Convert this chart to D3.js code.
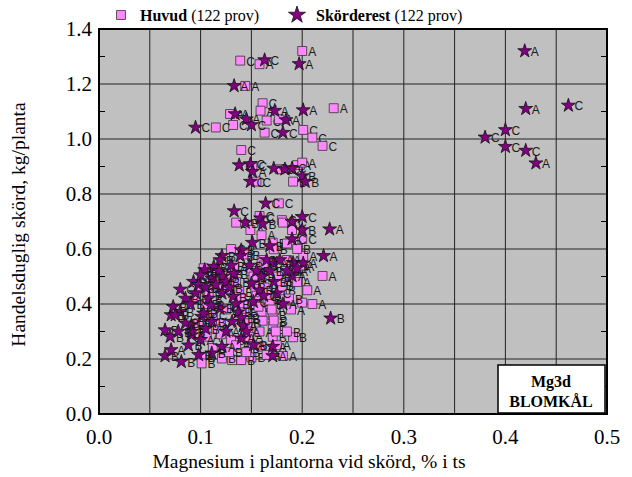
<!DOCTYPE html>
<html>
<head>
<meta charset="utf-8">
<script src="https://cdn.jsdelivr.net/npm/d3@7"></script>
<style>
  body { margin: 0; background: #fff; }
  svg { display: block; }
</style>
</head>
<body>
<div id="chart"></div>
<script>
// Mg i plantorna vs handelsduglig skörd — Mg3d blomkål

const xTicks = [0, 0.1, 0.2, 0.3, 0.4, 0.5];
const xGrid = [0.05, 0.1, 0.15, 0.2, 0.25, 0.3, 0.35, 0.4, 0.45];
const yTicks = [0, 0.2, 0.4, 0.6, 0.8, 1.0, 1.2, 1.4];
const yMinor = [0.1, 0.3, 0.5, 0.7, 0.9, 1.1, 1.3];

// [Mg %, skörd kg/planta, led]
const huvud = [
  [0.139,1.285,"C"],[0.158,1.272,"A"],[0.200,1.320,"A"],[0.144,1.193,"A"],[0.161,1.130,"C"],
  [0.159,1.103,"A"],[0.231,1.112,"A"],[0.129,1.091,"A"],[0.132,1.051,"C"],[0.165,1.067,"C"],
  [0.177,1.072,"A"],[0.115,1.042,"C"],[0.163,1.023,"C"],[0.201,1.033,"C"],[0.210,1.005,"C"],
  [0.220,0.975,"C"],[0.140,0.960,"C"],[0.151,0.902,"C"],[0.155,0.845,"C"],[0.178,0.890,"C"],
  [0.195,0.905,"A"],[0.200,0.914,"A"],[0.191,0.845,"B"],[0.177,0.766,"C"],[0.135,0.696,"B"],
  [0.158,0.720,"C"],[0.149,0.669,"A"],[0.180,0.705,"C"],[0.181,0.696,"C"],[0.190,0.669,"B"],
  [0.200,0.636,"C"],[0.171,0.623,"B"],[0.172,0.599,"B"],[0.201,0.575,"A"],[0.220,0.502,"A"],
  [0.191,0.279,"B"],[0.200,0.405,"A"],[0.210,0.400,"A"],[0.171,0.281,"B"],[0.181,0.211,"A"],
  [0.160,0.245,"A"],[0.150,0.206,"B"],[0.131,0.196,"B"],[0.140,0.196,"B"],[0.101,0.208,"B"],
  [0.101,0.184,"B"],[0.104,0.526,"C"],[0.160,0.372,"B"],[0.161,0.339,"B"],[0.171,0.320,"B"],
  [0.171,0.360,"B"],[0.181,0.481,"B"],[0.163,0.530,"A"],[0.106,0.281,"A"],[0.150,0.251,"A"],
  [0.121,0.202,"B"],[0.110,0.498,"C"],[0.118,0.470,"B"],[0.125,0.455,"C"],[0.128,0.510,"B"],
  [0.133,0.540,"A"],[0.135,0.480,"B"],[0.138,0.445,"B"],[0.140,0.420,"A"],[0.142,0.395,"B"],
  [0.143,0.370,"B"],[0.145,0.350,"B"],[0.146,0.330,"B"],[0.147,0.300,"B"],[0.148,0.280,"A"],
  [0.150,0.520,"B"],[0.152,0.500,"B"],[0.153,0.470,"A"],[0.154,0.455,"B"],[0.155,0.430,"B"],
  [0.156,0.410,"B"],[0.157,0.390,"B"],[0.158,0.300,"A"],[0.160,0.560,"C"],[0.162,0.540,"B"],
  [0.163,0.460,"B"],[0.165,0.440,"C"],[0.166,0.420,"B"],[0.168,0.400,"B"],[0.170,0.380,"A"],
  [0.172,0.340,"B"],[0.174,0.300,"A"],[0.176,0.500,"B"],[0.178,0.470,"B"],[0.180,0.450,"B"],
  [0.183,0.520,"A"],[0.185,0.560,"A"],[0.187,0.420,"B"],[0.189,0.380,"A"],[0.192,0.520,"A"],
  [0.195,0.480,"A"],[0.198,0.540,"A"],[0.205,0.450,"A"],[0.125,0.380,"B"],[0.120,0.330,"A"],
  [0.115,0.310,"B"],[0.112,0.360,"C"],[0.108,0.440,"C"],[0.105,0.400,"B"],[0.100,0.460,"C"],
  [0.098,0.330,"B"],[0.095,0.420,"C"],[0.120,0.290,"A"],[0.130,0.270,"B"],[0.135,0.250,"A"],
  [0.128,0.225,"B"],[0.112,0.240,"B"],[0.145,0.225,"B"],[0.165,0.215,"A"],[0.175,0.250,"A"],
  [0.185,0.300,"B"],[0.130,0.600,"C"],[0.145,0.580,"B"],[0.185,0.620,"C"],[0.195,0.600,"B"],
  [0.160,0.650,"A"],[0.103,0.530,"C"]
];

const skorderest = [
  [0.419,1.320,"A"],[0.420,1.110,"A"],[0.462,1.122,"C"],[0.380,1.006,"C"],[0.400,1.033,"C"],
  [0.400,0.972,"C"],[0.420,0.958,"C"],[0.430,0.912,"A"],[0.163,1.287,"C"],[0.197,1.273,"A"],
  [0.133,1.193,"A"],[0.173,1.103,"A"],[0.201,1.105,"A"],[0.134,1.091,"A"],[0.145,1.072,"A"],
  [0.150,1.051,"C"],[0.184,1.069,"A"],[0.095,1.042,"C"],[0.181,1.023,"C"],[0.138,0.905,"C"],
  [0.149,0.909,"C"],[0.151,0.881,"A"],[0.149,0.845,"C"],[0.172,0.893,"C"],[0.183,0.890,"C"],
  [0.190,0.893,"C"],[0.200,0.865,"B"],[0.203,0.845,"B"],[0.164,0.766,"C"],[0.133,0.738,"C"],
  [0.144,0.696,"B"],[0.159,0.712,"C"],[0.161,0.691,"B"],[0.190,0.699,"C"],[0.200,0.717,"C"],
  [0.200,0.669,"B"],[0.227,0.672,"A"],[0.190,0.636,"C"],[0.151,0.623,"B"],[0.168,0.611,"B"],
  [0.140,0.596,"B"],[0.121,0.575,"B"],[0.221,0.575,"A"],[0.228,0.348,"B"],[0.175,0.439,"C"],
  [0.181,0.400,"A"],[0.171,0.245,"A"],[0.171,0.211,"A"],[0.152,0.251,"B"],[0.121,0.245,"A"],
  [0.111,0.221,"B"],[0.081,0.190,"B"],[0.065,0.211,"B"],[0.071,0.233,"A"],[0.065,0.305,"B"],
  [0.070,0.281,"B"],[0.071,0.360,"B"],[0.080,0.372,"B"],[0.091,0.324,"B"],[0.091,0.287,"A"],
  [0.101,0.354,"B"],[0.111,0.336,"B"],[0.080,0.453,"C"],[0.093,0.481,"B"],[0.104,0.524,"B"],
  [0.119,0.560,"B"],[0.111,0.493,"B"],[0.121,0.439,"A"],[0.132,0.427,"B"],[0.119,0.384,"B"],
  [0.139,0.575,"B"],[0.150,0.475,"B"],[0.152,0.408,"C"],[0.172,0.548,"A"],[0.191,0.550,"A"],
  [0.201,0.548,"A"],[0.190,0.502,"A"],[0.172,0.481,"B"],[0.140,0.275,"A"],[0.073,0.390,"B"],
  [0.113,0.536,"B"],[0.131,0.336,"B"],[0.103,0.366,"B"],[0.091,0.299,"B"],[0.085,0.420,"B"],
  [0.090,0.400,"B"],[0.095,0.440,"C"],[0.098,0.470,"C"],[0.100,0.505,"B"],[0.105,0.460,"B"],
  [0.108,0.420,"B"],[0.110,0.395,"B"],[0.115,0.470,"B"],[0.118,0.520,"A"],[0.122,0.500,"B"],
  [0.125,0.480,"B"],[0.128,0.460,"B"],[0.130,0.540,"B"],[0.133,0.510,"B"],[0.135,0.400,"B"],
  [0.137,0.370,"B"],[0.140,0.350,"B"],[0.142,0.320,"A"],[0.145,0.300,"A"],[0.148,0.540,"B"],
  [0.155,0.520,"B"],[0.158,0.450,"B"],[0.160,0.500,"B"],[0.162,0.430,"C"],[0.165,0.560,"A"],
  [0.168,0.520,"B"],[0.178,0.560,"A"],[0.185,0.520,"A"],[0.195,0.530,"A"],[0.085,0.330,"B"],
  [0.078,0.300,"B"],[0.075,0.360,"B"],[0.088,0.250,"B"],[0.100,0.270,"A"],[0.105,0.310,"B"],
  [0.125,0.300,"A"],[0.098,0.215,"B"]
];

const W = 632, H = 477;
const plot = { left: 99, right: 607, top: 29, bottom: 414 };
const serif = "'Liberation Serif', 'Times New Roman', Times, serif";
const sans = "'Liberation Sans', Arial, sans-serif";
const pink = "#ff88ff";
const purple = "#800080";

const svg = d3.select("#chart").append("svg")
  .attr("width", W).attr("height", H)
  .attr("viewBox", `0 0 ${W} ${H}`);

const x = d3.scaleLinear().domain([0, 0.5]).range([plot.left, plot.right]);
const y = d3.scaleLinear().domain([0, 1.4]).range([plot.bottom, plot.top]);

// bakgrund
svg.append("rect")
  .attr("x", plot.left).attr("y", plot.top)
  .attr("width", plot.right - plot.left).attr("height", plot.bottom - plot.top)
  .attr("fill", "#c0c0c0");

// rutnät
svg.append("g").selectAll("line").data(xGrid).join("line")
  .attr("x1", d => x(d)).attr("x2", d => x(d))
  .attr("y1", plot.top).attr("y2", plot.bottom)
  .attr("stroke", "#222").attr("stroke-width", 1);

svg.append("g").selectAll("line").data(yTicks.slice(1, -1)).join("line")
  .attr("x1", plot.left).attr("x2", plot.right)
  .attr("y1", d => y(d)).attr("y2", d => y(d))
  .attr("stroke", "#222").attr("stroke-width", 1);

// små streck på y-axlarna
const minor = svg.append("g");
yMinor.forEach(v => {
  minor.append("line")
    .attr("x1", plot.left).attr("x2", plot.left + 6)
    .attr("y1", y(v)).attr("y2", y(v))
    .attr("stroke", "#000").attr("stroke-width", 1);
  minor.append("line")
    .attr("x1", plot.right - 6).attr("x2", plot.right)
    .attr("y1", y(v)).attr("y2", y(v))
    .attr("stroke", "#000").attr("stroke-width", 1);
});

// punkter
const square = d3.symbol().type(d3.symbolSquare).size(80);
const star = d3.symbol().type(d3.symbolStar).size(60);

function drawSeries(data, path, fill, stroke, cls) {
  const g = svg.append("g").attr("class", cls);
  const pts = g.selectAll("g").data(data).join("g")
    .attr("transform", d => `translate(${x(d[0])},${y(d[1])})`);
  pts.append("path")
    .attr("d", path)
    .attr("fill", fill)
    .attr("stroke", stroke)
    .attr("stroke-width", 0.8);
  pts.append("text")
    .attr("x", 6).attr("y", 5)
    .style("font-family", sans)
    .style("font-size", "12px")
    .attr("fill", "#1a1a1a")
    .text(d => d[2]);
}

drawSeries(huvud, square, pink, "#333", "huvud");
drawSeries(skorderest, star, purple, "#111", "skorderest");

// ram
svg.append("rect")
  .attr("x", plot.left).attr("y", plot.top)
  .attr("width", plot.right - plot.left).attr("height", plot.bottom - plot.top)
  .attr("fill", "none").attr("stroke", "#000").attr("stroke-width", 2);

// axeltexter
svg.append("g").selectAll("text").data(xTicks).join("text")
  .attr("x", d => x(d)).attr("y", 444)
  .attr("text-anchor", "middle")
  .style("font-family", serif).style("font-size", "21px")
  .text(d => d.toFixed(1));

svg.append("g").selectAll("text").data(yTicks).join("text")
  .attr("x", 92).attr("y", d => y(d) + 7)
  .attr("text-anchor", "end")
  .style("font-family", serif).style("font-size", "21px")
  .text(d => d.toFixed(1));

svg.append("text")
  .attr("x", 309).attr("y", 468)
  .attr("text-anchor", "middle")
  .style("font-family", serif).style("font-size", "19.5px")
  .text("Magnesium i plantorna vid skörd, % i ts");

svg.append("text")
  .attr("transform", `translate(25,${(plot.top + plot.bottom) / 2 + 3}) rotate(-90)`)
  .attr("text-anchor", "middle")
  .style("font-family", serif).style("font-size", "19.5px")
  .text("Handelsduglig skörd, kg/planta");

// legend
const leg = svg.append("g");
leg.append("path").attr("d", square)
  .attr("transform", "translate(121,15)")
  .attr("fill", pink).attr("stroke", "#333").attr("stroke-width", 0.8);
const t1 = leg.append("text").attr("x", 140).attr("y", 21)
  .style("font-family", serif).style("font-size", "16px");
t1.append("tspan").style("font-weight", "bold").text("Huvud");
t1.append("tspan").text(" (122 prov)");

leg.append("path").attr("d", d3.symbol().type(d3.symbolStar).size(90))
  .attr("transform", "translate(297,15)")
  .attr("fill", purple).attr("stroke", "#111").attr("stroke-width", 0.8);
const t2 = leg.append("text").attr("x", 316).attr("y", 21)
  .style("font-family", serif).style("font-size", "16px");
t2.append("tspan").style("font-weight", "bold").text("Skörderest");
t2.append("tspan").text(" (122 prov)");

// rutan nere till höger
const box = svg.append("g");
box.append("rect")
  .attr("x", 498).attr("y", 365).attr("width", 107).attr("height", 48)
  .attr("fill", "#fff").attr("stroke", "#000").attr("stroke-width", 1.5);
box.append("text").attr("x", 551).attr("y", 387)
  .attr("text-anchor", "middle")
  .style("font-family", serif).style("font-size", "16px").style("font-weight", "bold")
  .text("Mg3d");
box.append("text").attr("x", 551).attr("y", 407)
  .attr("text-anchor", "middle")
  .style("font-family", serif).style("font-size", "16px").style("font-weight", "bold")
  .text("BLOMKÅL");
</script>
</body>
</html>
